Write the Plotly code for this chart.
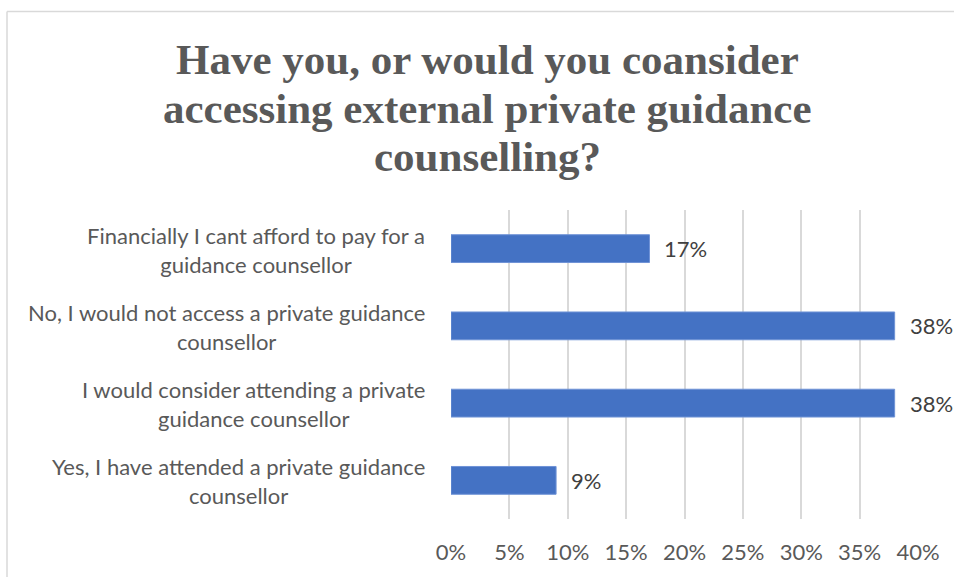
import plotly.graph_objects as go

# Survey responses (bottom to top as drawn on the category axis)
categories = [
    "Yes, I have attended a private guidance<br>counsellor",
    "I would consider attending a private<br>guidance counsellor",
    "No, I would not access a private guidance<br>counsellor",
    "Financially I cant afford to pay for a<br>guidance counsellor",
]
shares = [9, 38, 38, 17]  # percent of respondents
tick_values = [0, 5, 10, 15, 20, 25, 30, 35, 40]
tick_labels = [f"{v}%" for v in tick_values]
title_lines = [
    "Have you, or would you coansider",
    "accessing external private guidance",
    "counselling?",
]

W, H = 954, 577
L, R, T, B = 451, 36, 210, 54
plot_w = W - L - R
plot_h = H - T - B

sans = "Lato, Open Sans, sans-serif"
label_font = dict(family=sans, size=22, color="#595959")


def px_x(p):
    return (p - L) / plot_w


def px_y(p):
    return (H - B - p) / plot_h


fig = go.Figure(
    go.Bar(
        x=shares,
        y=categories,
        orientation="h",
        marker=dict(color="#4472C4", line=dict(color="#6f93d6", width=1)),
        width=0.36,
        hoverinfo="skip",
    )
)

# Value labels placed just past each bar end
for cat, v in zip(categories, shares):
    fig.add_annotation(
        x=v, y=cat, xref="x", yref="y",
        text=f"{v}%", showarrow=False,
        xanchor="left", xshift=13,
        font=dict(family=sans, size=22, color="#404040"),
    )

# Category labels: block right-aligned to the axis, lines centred
for cat in categories:
    fig.add_annotation(
        x=px_x(427), y=cat, xref="paper", yref="y", yshift=-1,
        text=cat, showarrow=False,
        xanchor="right", yanchor="middle", align="center",
        font=label_font,
    )

# Title, one line at a time for tight leading
for i, line in enumerate(title_lines):
    fig.add_annotation(
        x=px_x(487), y=px_y(58 + 49 * i), xref="paper", yref="paper",
        text=line, showarrow=False,
        xanchor="center", yanchor="middle",
        font=dict(family="Liberation Serif, Times New Roman, serif", size=43,
                  color="#595959", weight="bold"),
    )

# Chart frame (top and left edges visible)
fx0 = px_x(7)
fy1 = px_y(9)
fig.add_shape(type="line", xref="paper", yref="paper",
              x0=fx0, x1=px_x(W + 10), y0=fy1, y1=fy1,
              line=dict(color="#d9d9d9", width=1.5))
fig.add_shape(type="line", xref="paper", yref="paper",
              x0=fx0, x1=fx0, y0=fy1, y1=px_y(H + 10),
              line=dict(color="#d9d9d9", width=1.5))

fig.update_layout(
    width=W, height=H,
    margin=dict(l=L, r=R, t=T, b=B, pad=0),
    paper_bgcolor="white",
    plot_bgcolor="white",
    showlegend=False,
    xaxis=dict(
        range=[0, 40],
        tickvals=tick_values,
        ticktext=tick_labels,
        showgrid=True,
        gridcolor="#d9d9d9",
        gridwidth=1.5,
        zeroline=False,
        showline=False,
        ticks="",
        tickfont=label_font,
        ticklabelstandoff=18,
    ),
    yaxis=dict(
        showgrid=False,
        zeroline=False,
        showline=False,
        ticks="",
        showticklabels=False,
        range=[-0.5, 3.5],
    ),
)

fig.write_html("out.html")
